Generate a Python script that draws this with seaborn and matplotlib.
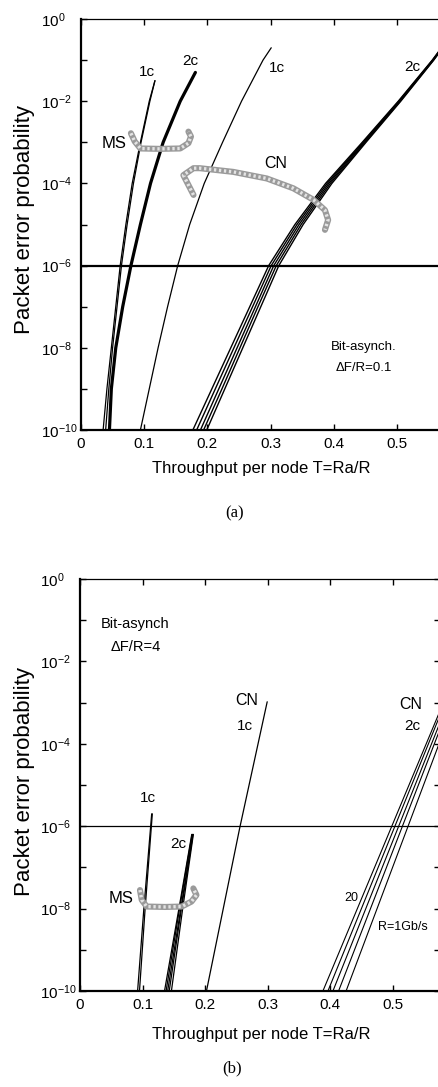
import numpy as np
import matplotlib
matplotlib.use("Agg")
import matplotlib.pyplot as plt
import seaborn as sns

# ---------------------------------------------------------------------------
# Panel (a): bit-asynchronous, dF/R = 0.1
# Curves are given as throughput T read at log10(packet error probability).
# ---------------------------------------------------------------------------
a_ms1c_logp = [-10, -9, -8, -7, -6, -5, -4, -3, -2, -1.5]
a_ms1c_t = [
    [0.035, 0.041, 0.048, 0.055, 0.062, 0.071, 0.081, 0.094, 0.108, 0.117],
    [0.039, 0.044, 0.050, 0.057, 0.064, 0.073, 0.083, 0.095, 0.109, 0.117],
]
a_ms2c_logp = [-10, -9, -8, -7, -6, -5, -4, -3, -2, -1.3]
a_ms2c_t = [0.045, 0.048, 0.055, 0.066, 0.079, 0.094, 0.110, 0.130, 0.157, 0.181]

a_cn1c_logp = [-10, -9, -8, -7, -6, -5, -4, -3, -2, -1, -0.7]
a_cn1c_t = [0.094, 0.108, 0.122, 0.137, 0.153, 0.172, 0.195, 0.224, 0.254, 0.288, 0.301]

a_cn2c_logp = [-10, -9, -8, -7, -6, -5, -4, -3, -2, -1, 0]
a_cn2c_t = [  # one row per bit rate R = 20, 10, 5, 2, 1 Gb/s
    [0.177, 0.207, 0.237, 0.267, 0.297, 0.3385, 0.387, 0.445, 0.502, 0.5558, 0.6042],
    [0.183, 0.2125, 0.242, 0.2715, 0.301, 0.3417, 0.3895, 0.4465, 0.503, 0.5564, 0.6046],
    [0.189, 0.218, 0.247, 0.276, 0.305, 0.345, 0.392, 0.448, 0.504, 0.557, 0.605],
    [0.194, 0.223, 0.2515, 0.280, 0.309, 0.3483, 0.3945, 0.4495, 0.505, 0.5576, 0.6054],
    [0.199, 0.2275, 0.256, 0.2845, 0.313, 0.3515, 0.397, 0.451, 0.506, 0.5582, 0.6058],
]

# grouping brackets (MS and CN families)
a_ms_bracket_t = [0.079, 0.085, 0.094, 0.125, 0.157, 0.170, 0.174, 0.170]
a_ms_bracket_logp = [-2.78, -2.98, -3.15, -3.16, -3.15, -3.02, -2.86, -2.74]
a_cn_bracket_t = [0.178, 0.162, 0.178, 0.188, 0.241, 0.294, 0.336, 0.368, 0.386, 0.391, 0.386]
a_cn_bracket_logp = [-4.28, -3.80, -3.63, -3.63, -3.72, -3.88, -4.12, -4.40, -4.65, -4.89, -5.13]

# ---------------------------------------------------------------------------
# Panel (b): bit-asynchronous, dF/R = 4
# ---------------------------------------------------------------------------
b_ms1c_logp = [-10, -8, -5.7]
b_ms1c_t = [
    [0.092, 0.102, 0.1145],
    [0.095, 0.104, 0.1155],
]
b_ms2c_logp = [-10, -8, -6.2]
b_ms2c_t = [
    [0.135, 0.158, 0.1785],
    [0.1375, 0.159, 0.179],
    [0.140, 0.161, 0.180],
    [0.1425, 0.162, 0.1805],
    [0.146, 0.164, 0.181],
]
b_cn1c_logp = [-10, -6.05, -2.98]
b_cn1c_t = [0.202, 0.255, 0.299]

b_cn2c_logp = [-10, -8, -6, -4, -2]
b_cn2c_t = [  # R = 20, 10, 5, 2, 1 Gb/s
    [0.388, 0.443, 0.498, 0.553, 0.608],
    [0.396, 0.4495, 0.503, 0.5565, 0.610],
    [0.404, 0.4565, 0.509, 0.5615, 0.614],
    [0.413, 0.464, 0.515, 0.566, 0.617],
    [0.425, 0.4745, 0.524, 0.5735, 0.623],
]
b_ms_bracket_t = [0.0958, 0.0986, 0.1065, 0.136, 0.1625, 0.178, 0.186, 0.181]
b_ms_bracket_logp = [-7.55, -7.79, -7.95, -7.96, -7.95, -7.83, -7.67, -7.51]

# axis ticks
x_ticks = [0, 0.1, 0.2, 0.3, 0.4, 0.5]
x_tick_labels = ["0", "0.1", "0.2", "0.3", "0.4", "0.5"]
y_exponents = list(range(-10, 1))
y_tick_labels = [r"$\mathregular{10^{%d}}$" % e if e % 2 == 0 else "" for e in y_exponents]

threshold = 1e-6

# ---------------------------------------------------------------------------
sns.set_theme(style="ticks")
SANS = ["Liberation Sans", "DejaVu Sans"]
plt.rcParams["font.family"] = SANS
plt.rcParams["mathtext.fontset"] = "custom"
plt.rcParams["mathtext.rm"] = "Liberation Sans"
plt.rcParams["mathtext.it"] = "Liberation Sans:italic"
plt.rcParams["mathtext.bf"] = "Liberation Sans:bold"
for key in ("text.color", "axes.labelcolor", "xtick.color", "ytick.color",
            "axes.edgecolor"):
    plt.rcParams[key] = "black"

W, H = 439, 1087
fig = plt.figure(figsize=(W / 100, H / 100), dpi=100)
fig.patch.set_facecolor("white")


def px_axes(left, right, top, bottom):
    return fig.add_axes([left / W, (H - bottom) / H, (right - left) / W, (bottom - top) / H])


def curve(ax, t, logp, lw):
    sns.lineplot(x=t, y=10.0 ** np.asarray(logp), ax=ax, color="black",
                 linewidth=lw, sort=False, estimator=None, legend=False)


def bracket(ax, t, logp):
    y = 10.0 ** np.asarray(logp)
    ax.plot(t, y, color="#9a9a9a", lw=4.4, solid_capstyle="round", zorder=4)
    ax.plot(t, y, color="#e4e4e4", lw=2.4, linestyle=(0, (0.7, 0.8)), zorder=5)


def style_axes(ax, ypad, hline_lw):
    ax.set_yscale("log")
    ax.set_xlim(0, 0.575)
    ax.set_ylim(1e-10, 1)
    ax.set_xticks(x_ticks)
    ax.set_xticklabels(x_tick_labels, fontsize=11)
    ax.set_yticks([10.0 ** e for e in y_exponents])
    ax.set_yticklabels(y_tick_labels, fontsize=11)
    ax.minorticks_off()
    ax.tick_params(axis="both", which="major", direction="in", length=4, width=1,
                   top=True, right=True, color="black", labelcolor="black")
    ax.tick_params(axis="x", pad=5)
    ax.tick_params(axis="y", pad=ypad)
    for lbl in ax.get_yticklabels():
        lbl.set_horizontalalignment("left")
    for side, lw in (("left", 1.6), ("bottom", 1.6), ("top", 0.9), ("right", 0.9)):
        ax.spines[side].set_visible(True)
        ax.spines[side].set_linewidth(lw)
        ax.spines[side].set_color("black")
    ax.axhline(threshold, color="black", lw=hline_lw, zorder=3)
    ax.set_xlabel("")
    ax.set_ylabel("")
    ax.set_facecolor("white")


def label(ax, t, logp, s, size=11):
    ax.text(t, 10.0 ** logp, s, ha="center", va="center", fontsize=size,
            color="black", zorder=6)


# ---------------------------- panel (a) -----------------------------------
ax_a = px_axes(81, 444.4, 19, 430)
ax_a.set_yscale("log")
for row in a_ms1c_t:
    curve(ax_a, row, a_ms1c_logp, 0.9)
curve(ax_a, a_ms2c_t, a_ms2c_logp, 2.3)
curve(ax_a, a_cn1c_t, a_cn1c_logp, 0.9)
for row in a_cn2c_t:
    curve(ax_a, row, a_cn2c_logp, 1.0)
bracket(ax_a, a_ms_bracket_t, a_ms_bracket_logp)
bracket(ax_a, a_cn_bracket_t, a_cn_bracket_logp)
style_axes(ax_a, 29, 1.6)

label(ax_a, 0.104, -1.29, "1c")
label(ax_a, 0.173, -1.01, "2c")
label(ax_a, 0.310, -1.20, "1c")
label(ax_a, 0.524, -1.16, "2c")
label(ax_a, 0.0525, -3.02, "MS", 12)
label(ax_a, 0.308, -3.52, "CN", 11.5)
label(ax_a, 0.447, -7.97, "Bit-asynch.", 9.5)
label(ax_a, 0.447, -8.50, "\u0394F/R=0.1", 9.5)

# ---------------------------- panel (b) -----------------------------------
ax_b = px_axes(80, 440, 579, 991)
ax_b.set_yscale("log")
for row in b_ms1c_t:
    curve(ax_b, row, b_ms1c_logp, 0.9)
for row in b_ms2c_t:
    curve(ax_b, row, b_ms2c_logp, 0.9)
curve(ax_b, b_cn1c_t, b_cn1c_logp, 0.9)
for row in b_cn2c_t:
    curve(ax_b, row, b_cn2c_logp, 0.8)
bracket(ax_b, b_ms_bracket_t, b_ms_bracket_logp)
style_axes(ax_b, 29, 0.9)

label(ax_b, 0.088, -1.09, "Bit-asynch", 10.5)
label(ax_b, 0.0895, -1.66, "\u0394F/R=4", 10.5)
label(ax_b, 0.108, -5.32, "1c")
label(ax_b, 0.157, -6.42, "2c")
label(ax_b, 0.266, -2.96, "CN", 11.5)
label(ax_b, 0.263, -3.56, "1c")
label(ax_b, 0.528, -3.04, "CN", 11.5)
label(ax_b, 0.530, -3.56, "2c")
label(ax_b, 0.065, -7.75, "MS", 12)
label(ax_b, 0.434, -7.75, "20", 9)
label(ax_b, 0.516, -8.44, "R=1Gb/s", 9)

# ------------------------ axis titles and captions ------------------------
for yc in (220, 782):
    fig.text(25 / W, 1 - yc / H, "Packet error probability", rotation=90,
             ha="center", va="center", fontsize=16, family=SANS, color="black")
for yc in (469, 1035):
    fig.text(261 / W, 1 - yc / H, "Throughput per node T=Ra/R",
             ha="center", va="center", fontsize=12, color="black")
fig.text(235 / W, 1 - 513 / H, "(a)", ha="center", va="center", fontsize=12,
         family=["Liberation Serif", "DejaVu Serif"], color="black")
fig.text(232 / W, 1 - 1068 / H, "(b)", ha="center", va="center", fontsize=12,
         family=["Liberation Serif", "DejaVu Serif"], color="black")

fig.savefig("out.png", dpi=100, facecolor="white")
